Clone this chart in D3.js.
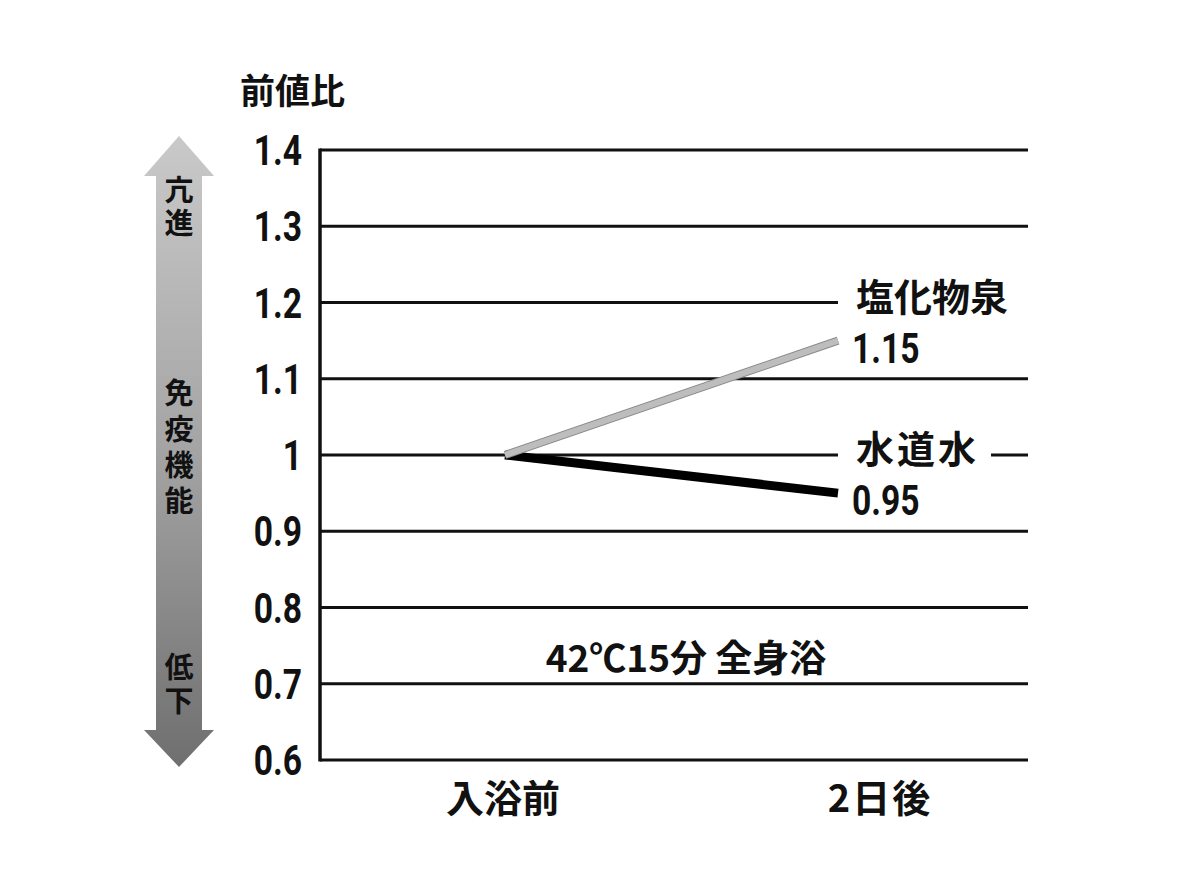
<!DOCTYPE html>
<html>
<head>
<meta charset="utf-8">
<script src="https://cdn.jsdelivr.net/npm/d3@7"></script>
<style>
  body { margin: 0; background: #fff; }
  text { font-family: "Noto Sans CJK JP", sans-serif; font-weight: 700; fill: #111; }
  text.num { font-family: Roboto, "Liberation Sans", sans-serif; font-weight: 700; }
</style>
</head>
<body>
<div id="chart"></div>
<script>
// data
var categories = ["入浴前", "2日後"];
var seriesNames = ["塩化物泉", "水道水"];
var seriesValues = [[1.0, 1.15], [1.0, 0.95]];
var yTicks = [0.6, 0.7, 0.8, 0.9, 1.0, 1.1, 1.2, 1.3, 1.4];
var tickLabels = ["0.6", "0.7", "0.8", "0.9", "1", "1.1", "1.2", "1.3", "1.4"];
var yTitle = "前値比";
var note = "42℃15分 全身浴";
var arrowTop = "亢進";
var arrowMid = "免疫機能";
var arrowBottom = "低下";

var w = 1200, h = 875;
var left = 320, right = 1028;

var svg = d3.select("#chart").append("svg")
  .attr("width", w)
  .attr("height", h);

var y = d3.scaleLinear().domain([0.6, 1.4]).range([760, 150]);
var x = d3.scalePoint().domain(categories).range([505, 838]);

// narrow bold numbers (squeezed Roboto)
function numText(str, px, py, size, anchor) {
  return svg.append("text")
    .attr("class", "num")
    .text(str)
    .attr("transform", "translate(" + px + "," + py + ") scale(0.8,1)")
    .attr("text-anchor", anchor || "start")
    .attr("font-size", size);
}

// series labels first so the gridlines can leave room for them
var nameBoxes = [];
seriesNames.forEach(function(name, i) {
  var last = seriesValues[i][seriesValues[i].length - 1];
  var near = Math.ceil(last * 10) / 10;
  var lineAt = y(near);
  var t = svg.append("text")
    .text(name)
    .attr("x", x(categories[categories.length - 1]) + 18)
    .attr("y", lineAt + 8)
    .attr("font-size", 38)
    .attr("letter-spacing", i === 1 ? 3 : 0);
  nameBoxes.push({ v: near, box: t.node().getBBox() });
  numText(last.toFixed(2), x(categories[categories.length - 1]) + 14, lineAt + 60, 42);
});

// gridlines
var grid = svg.insert("g", ":first-child");
yTicks.forEach(function(v) {
  var hit = nameBoxes.filter(function(d) { return Math.abs(d.v - v) < 1e-6; })[0];
  var segs = [[left, right]];
  if (hit) {
    var a = hit.box.x - 18, b = hit.box.x + hit.box.width + 12;
    segs = [[left, a]];
    if (b < right - 20) segs.push([b, right]);
  }
  segs.forEach(function(s) {
    grid.append("line")
      .attr("x1", s[0]).attr("x2", s[1])
      .attr("y1", y(v)).attr("y2", y(v))
      .attr("stroke", "#111")
      .attr("stroke-width", 3);
  });
});

// y axis line
svg.append("line")
  .attr("x1", left).attr("x2", left)
  .attr("y1", y(1.4) - 1.5).attr("y2", y(0.6) + 1.5)
  .attr("stroke", "#111")
  .attr("stroke-width", 3.5);

// tick labels
yTicks.forEach(function(v, i) {
  numText(tickLabels[i], 302, y(v) + 15, 42, "end");
});

svg.append("text")
  .text(yTitle)
  .attr("x", 240)
  .attr("y", 104)
  .attr("font-size", 35);

// category labels
categories.forEach(function(c, i) {
  svg.append("text")
    .text(c)
    .attr("x", x(c) + (i === categories.length - 1 ? 42 : -2))
    .attr("y", 812)
    .attr("text-anchor", "middle")
    .attr("font-size", 38)
    .attr("letter-spacing", i === categories.length - 1 ? 2 : 0);
});

svg.append("text")
  .text(note)
  .attr("x", 686)
  .attr("y", 672)
  .attr("text-anchor", "middle")
  .attr("font-size", 37);

// lines
var line = d3.line()
  .x(function(d, i) { return x(categories[i]); })
  .y(function(d) { return y(d); });

svg.append("path")
  .datum(seriesValues[1])
  .attr("d", line)
  .attr("fill", "none")
  .attr("stroke", "#000")
  .attr("stroke-width", 9);

svg.append("path")
  .datum(seriesValues[0])
  .attr("d", line)
  .attr("fill", "none")
  .attr("stroke", "#8a8a8a")
  .attr("stroke-width", 8);
svg.append("path")
  .datum(seriesValues[0])
  .attr("d", line)
  .attr("fill", "none")
  .attr("stroke", "#bdbdbd")
  .attr("stroke-width", 6);

// up/down arrow on the left
var defs = svg.append("defs");
var grad = defs.append("linearGradient")
  .attr("id", "arrowGrad")
  .attr("x1", 0).attr("y1", 0).attr("x2", 0).attr("y2", 1);
grad.append("stop").attr("offset", "0%").attr("stop-color", "#c9c9c9");
grad.append("stop").attr("offset", "50%").attr("stop-color", "#a4a4a4");
grad.append("stop").attr("offset", "100%").attr("stop-color", "#6f6f6f");

var cx = 179;
var pts = [
  [cx, 136], [cx + 35, 176], [cx + 23, 176], [cx + 23, 730], [cx + 35, 730],
  [cx, 767], [cx - 35, 730], [cx - 23, 730], [cx - 23, 176], [cx - 35, 176]
];
svg.append("polygon")
  .attr("points", pts.map(function(p) { return p.join(","); }).join(" "))
  .attr("fill", "url(#arrowGrad)");

// vertical text in the arrow
function vtext(str, midY, gap) {
  svg.append("text")
    .text(str)
    .attr("x", cx)
    .attr("y", midY)
    .attr("writing-mode", "vertical-rl")
    .attr("text-anchor", "middle")
    .attr("letter-spacing", gap)
    .attr("font-size", 29)
    .attr("font-weight", 500);
}
vtext(arrowTop, 208, 4);
vtext(arrowMid, 450, 7);
vtext(arrowBottom, 686, 5);
</script>
</body>
</html>
